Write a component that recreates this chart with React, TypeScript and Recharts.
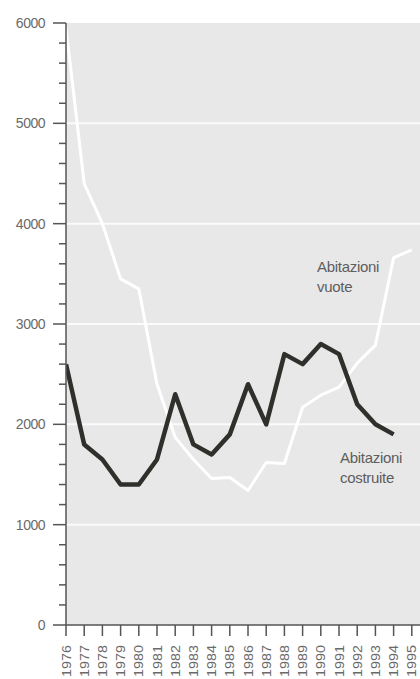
import React from 'react';
import { LineChart, Line, XAxis, YAxis, ReferenceLine, ReferenceArea } from 'recharts';

const years = [1976, 1977, 1978, 1979, 1980, 1981, 1982, 1983, 1984, 1985, 1986, 1987, 1988, 1989, 1990, 1991, 1992, 1993, 1994, 1995];
const costruite = [2600, 1800, 1650, 1400, 1400, 1650, 2300, 1800, 1700, 1900, 2400, 2000, 2700, 2600, 2800, 2700, 2200, 2000, 1900, null];
const vuote = [5950, 4400, 4000, 3450, 3350, 2400, 1870, 1650, 1460, 1470, 1340, 1620, 1610, 2170, 2290, 2370, 2610, 2790, 3660, 3740];
const yTicks = [0, 200, 400, 600, 800, 1000, 1200, 1400, 1600, 1800, 2000, 2200, 2400, 2600, 2800, 3000, 3200, 3400, 3600, 3800, 4000, 4200, 4400, 4600, 4800, 5000, 5200, 5400, 5600, 5800, 6000];
const majorTicks = [0, 1000, 2000, 3000, 4000, 5000, 6000];
const gridValues = [1000, 2000, 3000, 4000, 5000];

const data = years.map((year, i) => ({ year, costruite: costruite[i], vuote: vuote[i] }));

const AXIS = '#555';
const FONT = '"Liberation Sans", Arial, sans-serif';

const YTick = (props: any) => {
  const { x, y, payload } = props;
  const major = majorTicks.includes(payload.value);
  return (
    <g>
      <line x1={x - (major ? 13 : 7)} y1={y} x2={x} y2={y} stroke={AXIS} strokeWidth={1.5} />
      {major && (
        <text x={x - 21} y={y} dy={5} textAnchor="end" fontSize={14} fill="#6a6a6a" fontFamily={FONT} letterSpacing={-0.5}>
          {payload.value}
        </text>
      )}
    </g>
  );
};

const XTick = (props: any) => {
  const { x, y, payload } = props;
  return (
    <g>
      <line x1={x} y1={y} x2={x} y2={y + 11} stroke={AXIS} strokeWidth={1.5} />
      <g transform={`translate(${x},${y + 20}) rotate(-90) scale(1.15,1)`}>
        <text x={0} y={0} dy={4.5} textAnchor="end" fontSize={12.5} fill="#6a6a6a" fontFamily={FONT}>
          {payload.value}
        </text>
      </g>
    </g>
  );
};

const labelStyle: React.CSSProperties = {
  position: 'absolute',
  fontFamily: FONT,
  fontSize: 15,
  color: '#5e5e5e',
  lineHeight: '20px',
  letterSpacing: -0.3,
};

export default function App() {
  return (
    <div style={{ position: 'absolute', left: 0, top: 0, width: 420, height: 679, overflow: 'hidden', background: '#fff' }}>
      <LineChart width={420} height={700} data={data} margin={{ top: 23, right: 0, left: 0, bottom: 0 }}>
        <ReferenceArea x1={1976} x2={1995.45} y1={0} y2={6000} fill="#e8e8e8" fillOpacity={1} stroke="none" ifOverflow="hidden" />
        {gridValues.map((v) => (
          <ReferenceLine key={v} y={v} stroke="#fbfbfb" strokeWidth={2} />
        ))}
        <XAxis
          dataKey="year"
          type="number"
          domain={[1976, 1995.45]}
          allowDataOverflow
          ticks={years}
          interval={0}
          height={75}
          tickSize={0}
          tickMargin={0}
          tickLine={false}
          axisLine={{ stroke: AXIS, strokeWidth: 1.5 }}
          tick={<XTick />}
        />
        <YAxis
          domain={[0, 6000]}
          allowDataOverflow
          ticks={yTicks}
          interval={0}
          width={66}
          tickSize={0}
          tickMargin={0}
          tickLine={false}
          axisLine={{ stroke: AXIS, strokeWidth: 1.5 }}
          tick={<YTick />}
        />
        <Line dataKey="vuote" stroke="#ffffff" strokeWidth={3} dot={false} isAnimationActive={false} strokeLinejoin="round" />
        <Line dataKey="costruite" stroke="#2f302c" strokeWidth={4.5} dot={false} isAnimationActive={false} strokeLinejoin="round" connectNulls={false} />
      </LineChart>
      <div style={{ ...labelStyle, left: 317, top: 257 }}>
        Abitazioni
        <br />
        vuote
      </div>
      <div style={{ ...labelStyle, left: 340, top: 448 }}>
        Abitazioni
        <br />
        costruite
      </div>
    </div>
  );
}
